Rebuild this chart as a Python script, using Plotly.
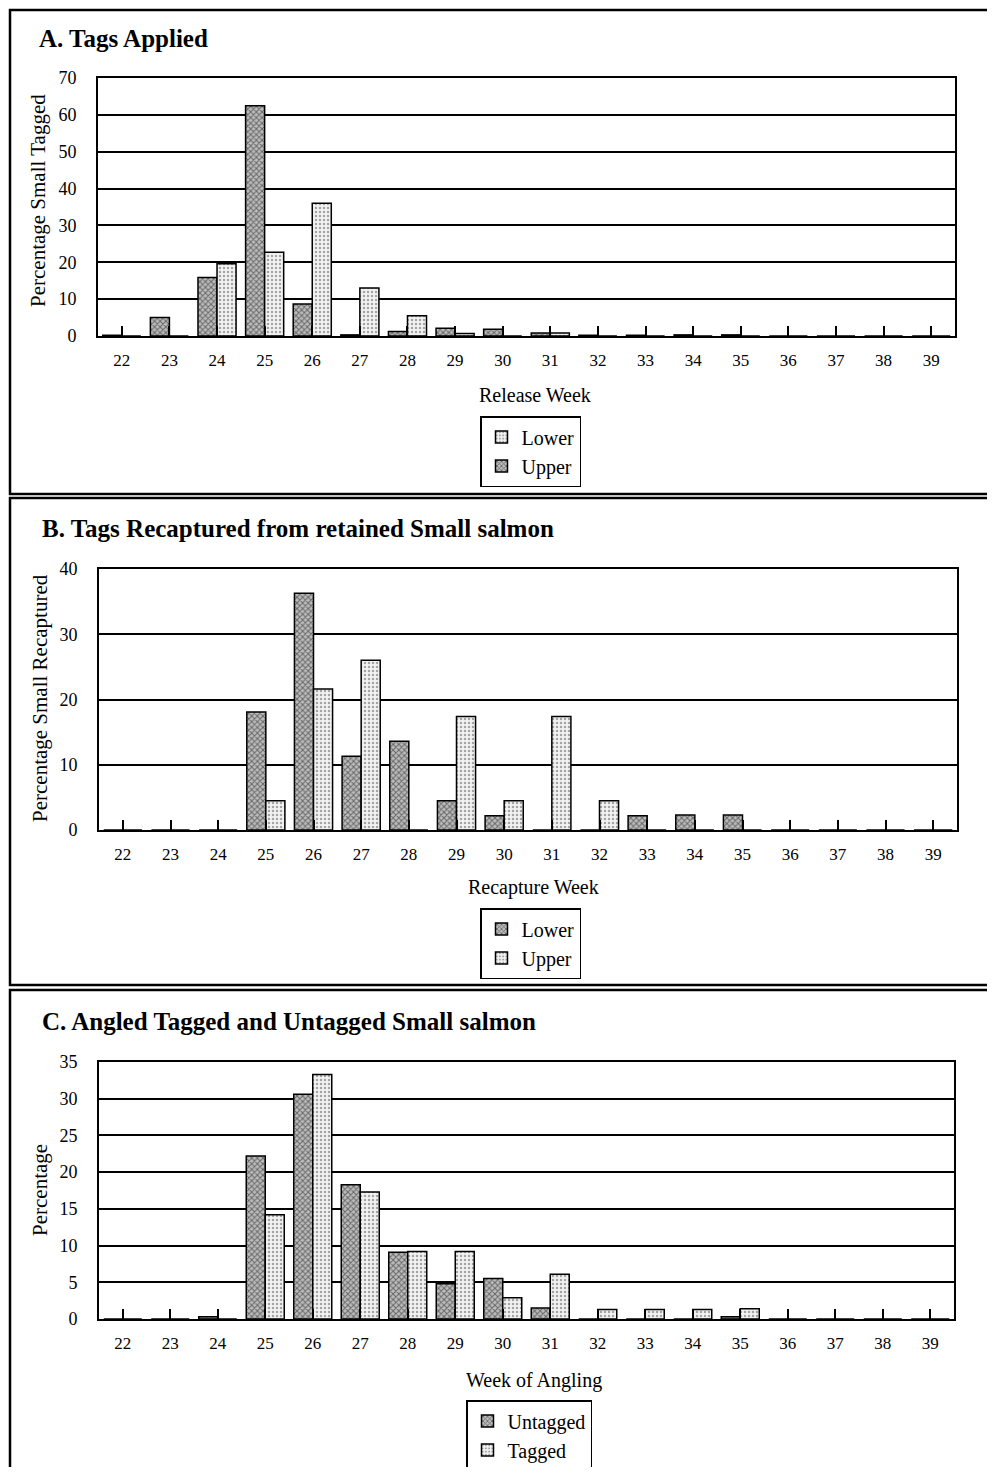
import plotly.graph_objects as go

OFF = 8  # default page body margin
W, H = 995 - OFF, 1475 - 2 * OFF

weeks = ["22", "23", "24", "25", "26", "27", "28", "29", "30",
         "31", "32", "33", "34", "35", "36", "37", "38", "39"]

# Panel A: Tags Applied
a_upper = [0.2, 5.0, 15.9, 62.5, 8.7, 0.3, 1.2, 2.1, 1.8, 0.8, 0.2, 0.2, 0.3, 0.3, 0, 0, 0, 0]
a_lower = [0, 0, 19.6, 22.7, 36.0, 13.0, 5.5, 0.7, 0, 0.8, 0, 0, 0, 0, 0, 0, 0, 0]

# Panel B: Tags Recaptured
b_lower = [0, 0, 0, 18.1, 36.3, 11.3, 13.6, 4.5, 2.2, 0, 0, 2.2, 2.3, 2.3, 0, 0, 0, 0]
b_upper = [0, 0, 0, 4.5, 21.6, 26.0, 0, 17.4, 4.5, 17.4, 4.5, 0, 0, 0, 0, 0, 0, 0]

# Panel C: Angled Tagged and Untagged
c_untagged = [0, 0, 0.3, 22.2, 30.6, 18.3, 9.1, 4.8, 5.5, 1.5, 0, 0, 0, 0.3, 0, 0, 0, 0]
c_tagged = [0, 0, 0, 14.2, 33.3, 17.3, 9.2, 9.2, 2.9, 6.1, 1.3, 1.3, 1.3, 1.4, 0, 0, 0, 0]

FONT = "Liberation Serif"


def py(px):
    return 1 - (px - OFF) / H


def px_x(px):
    return (px - OFF) / W


dark = dict(color="#b0b0b0", line=dict(color="black", width=1.5),
            pattern=dict(shape="x", size=4, solidity=0.45, fgcolor="#111111",
                         bgcolor="#bdbdbd", fillmode="overlay"))
light = dict(color="#eeeeee", line=dict(color="black", width=1.5),
             pattern=dict(shape=".", size=4, solidity=0.3, fgcolor="#555555",
                          bgcolor="#f2f2f2", fillmode="overlay"))

fig = go.Figure()

# A: left = Upper (dark), right = Lower (light)
fig.add_trace(go.Bar(x=weeks, y=a_upper, name="Upper", marker=dark,
                     xaxis="x", yaxis="y", legend="legend"))
fig.add_trace(go.Bar(x=weeks, y=a_lower, name="Lower", marker=light,
                     xaxis="x", yaxis="y", legend="legend"))
# B
fig.add_trace(go.Bar(x=weeks, y=b_lower, name="Lower", marker=dark,
                     xaxis="x2", yaxis="y2", legend="legend2"))
fig.add_trace(go.Bar(x=weeks, y=b_upper, name="Upper", marker=light,
                     xaxis="x2", yaxis="y2", legend="legend2"))
# C
fig.add_trace(go.Bar(x=weeks, y=c_untagged, name="Untagged", marker=dark,
                     xaxis="x3", yaxis="y3", legend="legend3"))
fig.add_trace(go.Bar(x=weeks, y=c_tagged, name="Tagged", marker=light,
                     xaxis="x3", yaxis="y3", legend="legend3"))

panels = [
    # (x0, x1, ytop, ybot, ymax, dtick)
    (98, 955, 78, 336, 70, 10),
    (99, 957, 569, 830, 40, 10),
    (99, 954, 1062, 1319, 35, 5),
]

layout = {}
for i, (x0, x1, yt, yb, ymax, dt) in enumerate(panels):
    sfx = "" if i == 0 else str(i + 1)
    layout["xaxis" + sfx] = dict(
        domain=[px_x(x0), px_x(x1)], anchor="y" + sfx, type="category",
        showline=True, linecolor="black", linewidth=2, mirror=True,
        ticks="inside", ticklen=10, tickcolor="black", tickwidth=1.5,
        tickfont=dict(family=FONT, size=17, color="black"),
        ticklabelstandoff=8, showgrid=False, fixedrange=True,
    )
    layout["yaxis" + sfx] = dict(
        domain=[py(yb), py(yt)], anchor="x" + sfx, range=[0, ymax], dtick=dt,
        showline=True, linecolor="black", linewidth=2, mirror=True,
        showgrid=True, gridcolor="black", gridwidth=1.5, zeroline=False,
        tickfont=dict(family=FONT, size=18, color="black"), ticks="",
        ticklabelstandoff=16, fixedrange=True,
    )

legend_common = dict(bgcolor="white", bordercolor="black", borderwidth=1.5,
                     font=dict(family=FONT, size=20, color="black"),
                     xanchor="left", yanchor="top", itemwidth=30,
                     tracegroupgap=0)
layout["legend"] = dict(legend_common, x=px_x(480), y=py(416), traceorder="reversed")
layout["legend2"] = dict(legend_common, x=px_x(480), y=py(908), traceorder="normal")
layout["legend3"] = dict(legend_common, x=px_x(466), y=py(1400), traceorder="normal")

annotations = []
titles = [
    ("A. Tags Applied", 37, 38),
    ("B. Tags Recaptured from retained Small salmon", 40, 528),
    ("C. Angled Tagged and Untagged Small salmon", 40, 1021),
]
for t, x, y in titles:
    annotations.append(dict(text="<b>" + t + "</b>", x=px_x(x), y=py(y),
                            xref="paper", yref="paper", xanchor="left", yanchor="middle",
                            showarrow=False, font=dict(family=FONT, size=25, color="black")))
xtitles = [("Release Week", 535, 395), ("Recapture Week", 533, 887),
           ("Week of Angling", 534, 1380)]
for t, x, y in xtitles:
    annotations.append(dict(text=t, x=px_x(x), y=py(y), xref="paper", yref="paper",
                            xanchor="center", yanchor="middle", showarrow=False,
                            font=dict(family=FONT, size=20, color="black")))
ytitles = [("Percentage Small Tagged", 38, 201), ("Percentage Small Recaptured", 40, 698),
           ("Percentage", 40, 1190)]
for t, x, y in ytitles:
    annotations.append(dict(text=t, x=px_x(x), y=py(y), xref="paper", yref="paper",
                            xanchor="center", yanchor="middle", showarrow=False, textangle=-90,
                            font=dict(family=FONT, size=21, color="black")))

shapes = []
frames = [(10, 10, 494), (10, 498, 985), (10, 990, 1490)]
for x0, y0, y1 in frames:
    shapes.append(dict(type="rect", xref="paper", yref="paper",
                       x0=px_x(x0), x1=px_x(1010), y0=py(y1), y1=py(y0),
                       line=dict(color="black", width=2.5), layer="above"))

fig.update_layout(
    width=W, height=H, margin=dict(l=0, r=0, t=0, b=0, autoexpand=False),
    paper_bgcolor="white", plot_bgcolor="white",
    barmode="group", bargap=0.2, bargroupgap=0,
    showlegend=True, annotations=annotations, shapes=shapes,
    font=dict(family=FONT, color="black"),
    **layout,
)

fig.write_html("out.html")
